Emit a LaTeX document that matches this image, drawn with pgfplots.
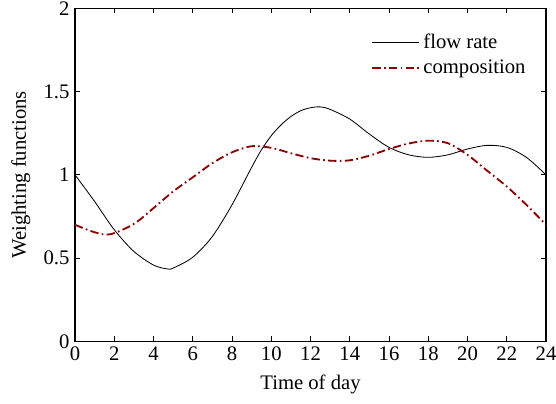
\documentclass[border=0pt]{standalone}
\usepackage{pgfplots}
\pgfplotsset{compat=1.18}
\usepackage{fontspec}
\setmainfont{Liberation Serif}
\definecolor{compred}{RGB}{139,0,0}
\begin{document}
\fontsize{12.4}{14}\selectfont
\begin{tikzpicture}
\begin{axis}[
  scale only axis,
  width=282.6pt, height=199.8pt,
  xmin=0, xmax=24, ymin=0, ymax=2,
  xtick={0,2,...,24}, ytick={0,0.5,1,1.5,2},
  tick align=inside, major tick length=3pt,
  tick style={black, line width=0.6pt},
  axis line style={line width=0.7pt},
  /pgf/number format/assume math mode=true,
  ticklabel style={font=\fontsize{12.4}{14}\selectfont},
  yticklabel style={xshift=1pt},
  xticklabel style={yshift=1pt},
  xlabel={Time of day}, ylabel={Weighting functions},
  xlabel style={at={(axis description cs:0.5,-0.13)}, anchor=center},
  ylabel style={at={(axis description cs:-0.115,0.5)}, anchor=center},
  legend style={draw=none, fill=none, at={(0.975,0.945)}, anchor=north east,
    font=\fontsize{12.4}{14}\selectfont, row sep=1pt},
  legend cell align=left,
  legend image code/.code={\draw[#1] (0pt,0pt) -- (28pt,0pt);},
]
\addplot[black, line width=0.5pt, smooth] coordinates {
 (0,1.00) (1,0.84) (2,0.67) (3,0.54) (4,0.458) (4.7,0.435) (5,0.44)
 (6,0.505) (7,0.63) (8,0.82) (9,1.045) (9.5,1.15) (10,1.235) (10.5,1.30)
 (11,1.35) (11.5,1.385) (12,1.403) (12.5,1.408) (13,1.393) (14,1.335)
 (15,1.245) (16,1.165) (17,1.12) (18,1.105) (19,1.12) (20,1.155)
 (21,1.177) (22,1.165) (23,1.105) (24,1.00)
};
\addlegendentry{flow rate}
\addplot[compred, line width=1.1pt, smooth,
  dash pattern=on 5pt off 2pt on 1pt off 2pt] coordinates {
 (0,0.70) (1,0.655) (1.8,0.643) (3,0.705) (4,0.80) (5,0.90) (6,0.985)
 (7,1.07) (8,1.135) (9,1.172) (10,1.162) (11,1.13) (12,1.10) (13,1.085)
 (14,1.087) (15,1.115) (16,1.155) (17,1.188) (18,1.205) (19,1.19)
 (20,1.12) (21,1.025) (22,0.93) (23,0.82) (24,0.70)
};
\addlegendentry{composition}
\end{axis}
\pgfresetboundingbox
\path (current axis.south west) ++(-45pt,-37.2pt) coordinate (bbsw);
\path (current axis.north east) ++(6pt,5pt) coordinate (bbne);
\path (bbsw) rectangle (bbne);
\end{tikzpicture}
\end{document}
